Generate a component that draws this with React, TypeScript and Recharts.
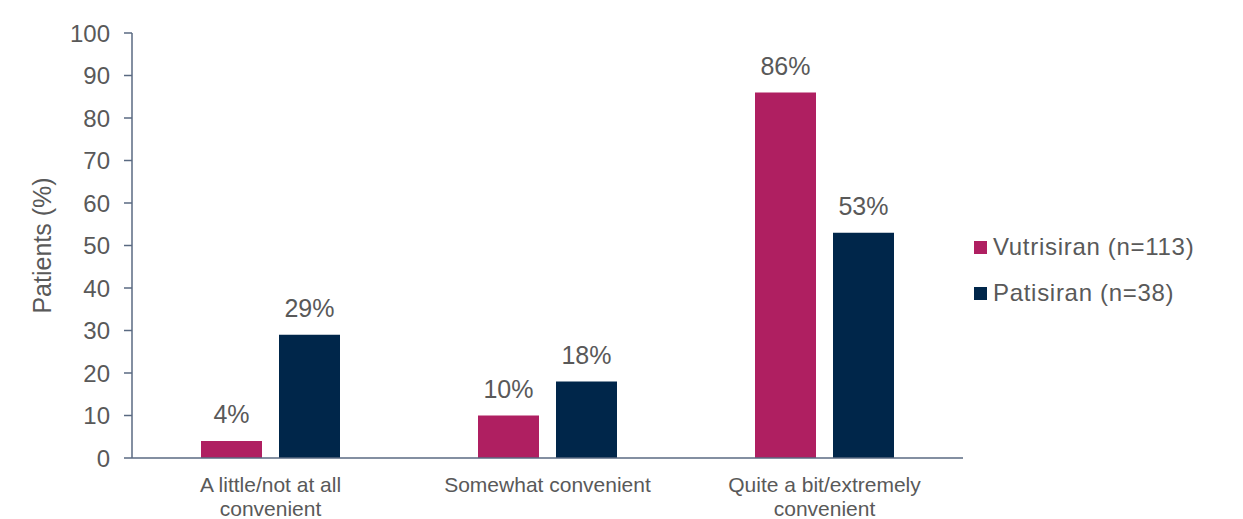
import React from "react";
import { BarChart, Bar, XAxis, YAxis, LabelList, Label } from "recharts";

const categories = [
  "A little/not at all\nconvenient",
  "Somewhat convenient",
  "Quite a bit/extremely\nconvenient",
];
const vutrisiran = [4, 10, 86];
const patisiran = [29, 18, 53];
const seriesNames = ["Vutrisiran (n=113)", "Patisiran (n=38)"];
const seriesColors = ["#AF1F61", "#00264A"];
const yTicks = [0, 10, 20, 30, 40, 50, 60, 70, 80, 90, 100];

const FONT = "Arial, 'Liberation Sans', sans-serif";
const TEXT = "#595959";
const AXIS = "#5a6a82";

const data = categories.map((name, i) => ({
  name,
  vutrisiran: vutrisiran[i],
  patisiran: patisiran[i],
}));

// category labels can wrap onto two lines
const CategoryTick = ({ x, y, payload }: any) => {
  const lines = String(payload.value).split("\n");
  return (
    <g>
      {lines.map((line, i) => (
        <text
          key={i}
          x={x}
          y={y + 32 + i * 24}
          textAnchor="middle"
          fill={TEXT}
          fontSize={21}
          fontFamily={FONT}
        >
          {line}
        </text>
      ))}
    </g>
  );
};

const LegendBox = () => (
  <div
    style={{
      position: "absolute",
      left: 974,
      top: 224,
      fontFamily: FONT,
      fontSize: 24,
      color: TEXT,
      letterSpacing: 0.7,
    }}
  >
    {seriesNames.map((name, i) => (
      <div
        key={name}
        style={{ display: "flex", alignItems: "center", height: 46 }}
      >
        <span
          style={{
            display: "inline-block",
            width: 13,
            height: 13,
            background: seriesColors[i],
            marginRight: 6,
          }}
        />
        <span>{name}</span>
      </div>
    ))}
  </div>
);

export default function App() {
  return (
    <div
      style={{
        position: "fixed",
        left: 0,
        top: 0,
        width: 1243,
        height: 519,
        background: "#fff",
      }}
    >
      <BarChart
        width={1243}
        height={519}
        data={data}
        margin={{ top: 33, right: 280, bottom: 0, left: 0 }}
        barSize={61}
        barGap={17}
      >
        <XAxis
          dataKey="name"
          height={61}
          axisLine={{ stroke: AXIS, strokeWidth: 1.5 }}
          tickLine={false}
          tickSize={0}
          tick={<CategoryTick />}
          interval={0}
        />
        <YAxis
          width={132}
          domain={[0, 100]}
          ticks={yTicks}
          interval={0}
          axisLine={{ stroke: AXIS, strokeWidth: 1.5 }}
          tickLine={{ stroke: AXIS, strokeWidth: 1.5 }}
          tickSize={8}
          tickMargin={14}
          tick={{ fill: TEXT, fontSize: 24, fontFamily: FONT }}
        >
          <Label
            content={({ viewBox }: any) => (
              <text
                x={42}
                y={viewBox.y + viewBox.height / 2}
                transform={`rotate(-90, 42, ${viewBox.y + viewBox.height / 2})`}
                textAnchor="middle"
                dominantBaseline="central"
                fill={TEXT}
                fontSize={25}
                fontFamily={FONT}
              >
                Patients (%)
              </text>
            )}
          />
        </YAxis>
        <Bar
          dataKey="vutrisiran"
          name={seriesNames[0]}
          fill={seriesColors[0]}
          isAnimationActive={false}
        >
          <LabelList
            dataKey="vutrisiran"
            position="top"
            offset={18}
            formatter={(v: any) => `${v}%`}
            fill={TEXT}
            fontSize={25}
            fontFamily={FONT}
          />
        </Bar>
        <Bar
          dataKey="patisiran"
          name={seriesNames[1]}
          fill={seriesColors[1]}
          isAnimationActive={false}
        >
          <LabelList
            dataKey="patisiran"
            position="top"
            offset={18}
            formatter={(v: any) => `${v}%`}
            fill={TEXT}
            fontSize={25}
            fontFamily={FONT}
          />
        </Bar>
      </BarChart>
      <LegendBox />
    </div>
  );
}
